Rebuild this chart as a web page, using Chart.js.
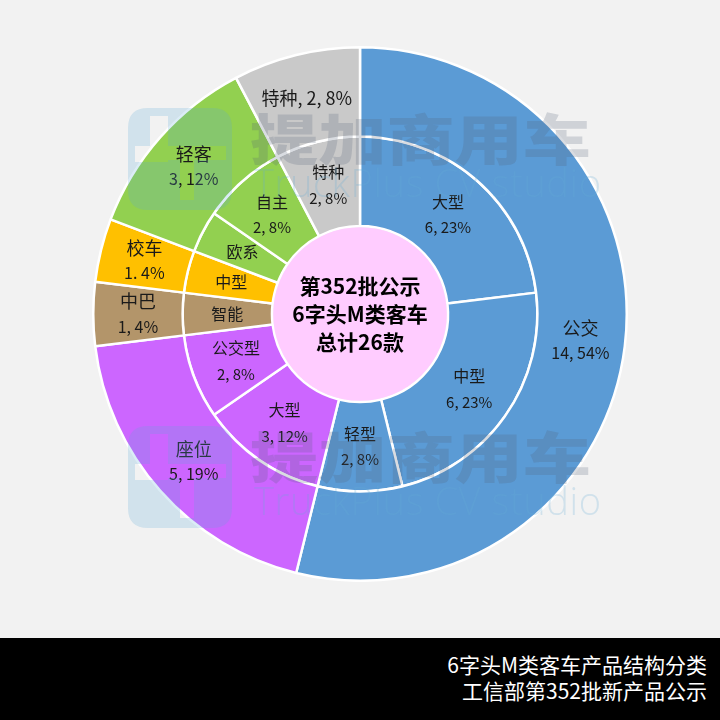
<!DOCTYPE html>
<html>
<head>
<meta charset="utf-8">
<script src="https://cdn.jsdelivr.net/npm/chart.js@4"></script>
<style>
  html, body { margin:0; padding:0; width:720px; height:720px; background:#F2F2F2; overflow:hidden; }
  #wrap { position:absolute; left:92px; top:46px; width:536px; height:536px; }
  #footer { position:absolute; left:0; top:638px; width:720px; height:82px; background:#000; }
  .ft { position:absolute; right:13px; color:#fff; font-family:'Noto Sans CJK SC','Noto Sans',sans-serif; font-size:21px; line-height:26px; white-space:nowrap; }
  .wm { position:absolute; pointer-events:none; white-space:nowrap; }
  .wmcn { font-family:'Noto Sans CJK SC',sans-serif; font-weight:900; font-size:55px; line-height:55px; color:rgba(80,95,120,0.22); transform:scaleX(1.24); transform-origin:0 0; }
  .wmen { font-family:'Open Sans','Noto Sans',sans-serif; font-weight:300; font-size:38px; line-height:38px; letter-spacing:0.6px; color:rgba(100,170,215,0.24); }
  .logo { position:absolute; pointer-events:none; }
</style>
</head>
<body>
<div id="wrap"><canvas id="c"></canvas></div>

<svg class="logo" style="left:128px; top:108px;" width="104" height="102" viewBox="0 0 104 102">
  <path fill="rgba(91,170,215,0.22)" fill-rule="evenodd"
    d="M20,0 H84 Q104,0 104,20 V82 Q104,102 84,102 H20 Q0,102 0,82 V20 Q0,0 20,0 Z
       M22,8 H40 V38 H98 V52 H66 V92 H52 V52 H40 V54 H7 V38 H22 Z"/>
</svg>
<div class="wm wmcn" style="left:250px; top:109px;">提加商用车</div>
<div class="wm wmen" style="left:254px; top:163px;">TruckPlus CV studio</div>

<svg class="logo" style="left:128px; top:426px;" width="104" height="102" viewBox="0 0 104 102">
  <path fill="rgba(91,170,215,0.22)" fill-rule="evenodd"
    d="M20,0 H84 Q104,0 104,20 V82 Q104,102 84,102 H20 Q0,102 0,82 V20 Q0,0 20,0 Z
       M22,8 H40 V38 H98 V52 H66 V92 H52 V52 H40 V54 H7 V38 H22 Z"/>
</svg>
<div class="wm wmcn" style="left:250px; top:427px;">提加商用车</div>
<div class="wm wmen" style="left:254px; top:481px;">TruckPlus CV studio</div>

<div id="footer">
  <div class="ft" style="top:13px;">6字头M类客车产品结构分类</div>
  <div class="ft" style="top:39px;">工信部第352批新产品公示</div>
</div>

<script>
// ---- data ----
const outerNames  = ['公交', '座位', '中巴', '校车', '轻客', '特种'];
const outerValues = [14, 5, 1, 1, 3, 2];
const outerLabels = [['公交', '14, 54%'], ['座位', '5, 19%'], ['中巴', '1, 4%'], ['校车', '1. 4%'], ['轻客', '3, 12%'], ['特种, 2, 8%']];
const outerColors = ['#5B9BD5', '#CC66FF', '#B3956A', '#FFC000', '#92D050', '#C9C9C9'];

const innerNames  = ['大型', '中型', '轻型', '大型', '公交型', '智能', '中型', '欧系', '自主', '特种'];
const innerValues = [6, 6, 2, 3, 2, 1, 1, 1, 2, 2];
const innerLabels = [['大型', '6, 23%'], ['中型', '6, 23%'], ['轻型', '2, 8%'], ['大型', '3, 12%'], ['公交型', '2, 8%'], ['智能'], ['中型'], ['欧系'], ['自主', '2, 8%'], ['特种', '2, 8%']];
const innerParent = [0, 0, 0, 1, 1, 2, 3, 4, 4, 5];

const centerLines = ['第352批公示', '6字头M类客车', '总计26款'];

const innerColors = innerParent.map(i => outerColors[i]);

const FONT = "'Noto Sans CJK SC', 'Noto Sans', sans-serif";

const centerPlugin = {
  id: 'centerPlugin',
  afterDatasetsDraw(chart) {
    const ctx = chart.ctx;
    const meta = chart.getDatasetMeta(1);
    const a = meta.data[0];
    const cx = a.x, cy = a.y, r = a.innerRadius;
    ctx.save();
    ctx.beginPath();
    ctx.arc(cx, cy, r - 1.2, 0, Math.PI * 2);
    ctx.fillStyle = '#FFCCFF';
    ctx.fill();
    ctx.fillStyle = '#000';
    ctx.font = "bold 21px " + FONT;
    ctx.textAlign = 'center';
    ctx.textBaseline = 'middle';
    const lh = 28;
    centerLines.forEach((t, i) => {
      ctx.fillText(t, cx, cy + (i - (centerLines.length - 1) / 2) * lh);
    });
    ctx.restore();
  }
};

const labelPlugin = {
  id: 'labelPlugin',
  afterDatasetsDraw(chart) {
    const ctx = chart.ctx;
    const sets = [
      { meta: chart.getDatasetMeta(0), labels: outerLabels, nameSize: 18, numSize: 16, lh: 25 },
      { meta: chart.getDatasetMeta(1), labels: innerLabels, nameSize: 16, numSize: 15, lh: 26 }
    ];
    ctx.save();
    ctx.textAlign = 'center';
    ctx.textBaseline = 'middle';
    ctx.fillStyle = '#1a1a1a';
    sets.forEach(s => {
      s.meta.data.forEach((arc, i) => {
        const p = arc.getCenterPoint();
        const lines = s.labels[i];
        lines.forEach((t, j) => {
          const isNum = j > 0;
          ctx.font = (isNum ? s.numSize : s.nameSize) + "px " + FONT;
          ctx.fillText(t, p.x, p.y + (j - (lines.length - 1) / 2) * s.lh);
        });
      });
    });
    ctx.restore();
  }
};

new Chart(document.getElementById('c'), {
  type: 'doughnut',
  data: {
    labels: outerNames,
    datasets: [
      { label: '大类', data: outerValues, backgroundColor: outerColors, borderColor: '#FFFFFF', borderWidth: 2.5 },
      { label: '细分', data: innerValues, backgroundColor: innerColors, borderColor: '#FFFFFF', borderWidth: 2.5 }
    ]
  },
  options: {
    responsive: true,
    maintainAspectRatio: false,
    animation: false,
    events: [],
    cutout: '33%',
    layout: { padding: 0 },
    plugins: {
      legend: { display: false },
      tooltip: { enabled: false },
      title: { display: false }
    }
  },
  plugins: [centerPlugin, labelPlugin]
});
</script>
</body>
</html>
